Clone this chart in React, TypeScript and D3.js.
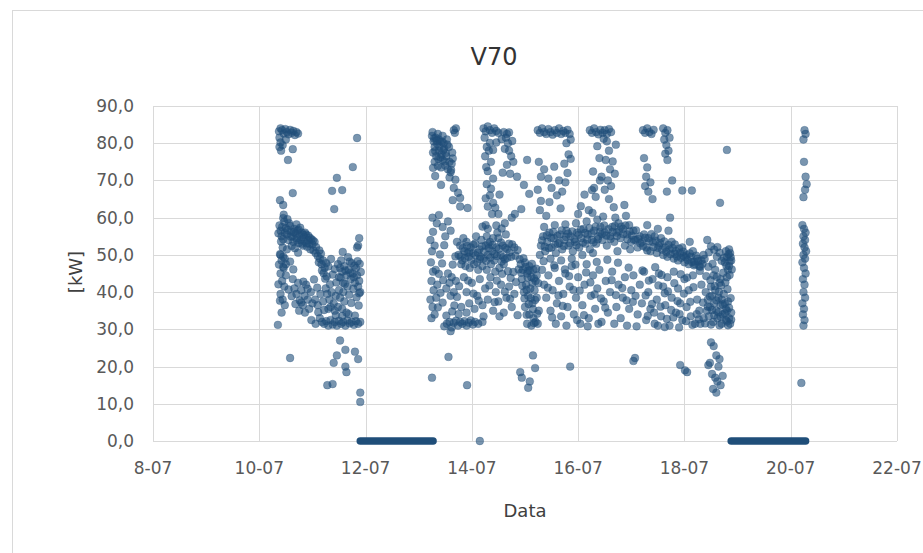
import React from "react";
import * as d3 from "d3";

type P = [number, number];

const xTicks = [8, 10, 12, 14, 16, 18, 20, 22];
const yTicks = [0, 10, 20, 30, 40, 50, 60, 70, 80, 90];
const zeroRuns: [number, number][] = [[11.9, 13.27], [18.88, 20.28]];

const july10: P[] = [
  [10.37,83.2],[10.40,84],[10.43,83.5],[10.46,82.6],[10.49,83.8],[10.52,83],[10.55,82.4],[10.58,83.6],[10.61,82.8],[10.64,83.3],[10.67,82.2],[10.70,83],[10.73,82.6],[10.38,81.5],[10.40,80.2],[10.38,79],[10.41,78],[10.44,79.5],[10.50,81],[10.63,78.4],[10.54,75.5],
  [11.84,81.4],[11.76,73.6],[11.46,70.7],[11.37,67.2],[11.56,67.4],[10.63,66.6],[11.41,62.3],[10.39,64.7],[10.45,63.4],[10.45,59.9],[10.43,57.5],
  [10.40,56.5],[10.42,55],[10.45,54.2],[10.48,56],[10.50,57.2],[10.52,55.5],[10.55,54],[10.58,57.8],[10.60,56.3],[10.62,55],[10.64,53.5],[10.66,57],[10.68,55.8],[10.70,54.5],[10.72,56.5],[10.74,53.2],[10.76,55.2],[10.78,54],[10.80,56],[10.82,52.5],[10.84,54.8],[10.86,53.5],[10.88,55.5],[10.90,52.2],[10.92,54],[10.94,53],[10.96,51.5],[10.98,54.2],[11.00,52.8],[11.02,51.2],[11.04,53.5],[11.06,50.5],[10.56,58.5],[10.70,58.2],[10.44,52],[10.52,51.5],[10.74,56.8],[10.86,56],[10.92,55.2],[10.80,53],
  [10.40,50],[10.42,48.5],[10.45,46.8],[10.40,45],[10.43,43],[10.47,41.5],[10.40,39.5],[10.44,38],[10.48,36.5],[10.42,34.5],[10.35,31.2],[10.50,44.5],[10.45,49.5],[10.48,49],[10.50,47.5],[10.46,46.5],
  [10.63,43.5],[10.66,41],[10.70,39.5],[10.73,42.5],[10.76,37.8],[10.79,40.5],[10.82,36.5],[10.85,39],[10.88,42],[10.91,38],[10.94,35.5],[10.97,40],[11.00,37],[10.68,36.8],[10.75,35],[10.86,34.5],
  [11.14,49],[11.17,47.5],[11.20,48.5],[11.23,46.5],[11.26,47.8],[11.18,45.8],[11.12,48],
  [11.48,47.5],[11.52,46.5],[11.56,45.5],[11.60,47],[11.64,44.5],[11.68,46],[11.72,43.5],[11.76,45],[11.80,42.5],[11.84,44.5],[11.88,43],[11.50,44],[11.58,42.5],[11.66,41.5],[11.74,47.8],[11.82,46.5],[11.86,41.5],[11.54,48.5],[11.70,48.2],[11.62,45.8],[11.78,44],
  [11.28,39.5],[11.32,38],[11.36,40],[11.40,37],[11.44,39],[11.48,36],[11.52,38.5],[11.56,35.5],[11.60,37.5],[11.64,34.5],[11.34,36],[11.42,35],[11.50,40.5],[11.58,40],[11.30,35.5],[11.05,38],[11.10,36.5],[11.15,39.5],[11.20,37.5],[11.25,41],
  [11.18,32],[11.22,31.5],[11.26,32.2],[11.30,31],[11.34,32.5],[11.38,31.3],[11.42,32],[11.46,31],[11.50,32.3],[11.54,31.5],[11.58,32],[11.62,31],[11.66,32.4],[11.70,31.6],[11.74,32],[11.78,31.2],[11.82,32.2],[11.86,31.5],[11.90,32],[11.14,33],[10.98,32.5],[11.06,31.5],
  [11.88,54.5],[11.86,52.5],[11.84,52],[11.90,40],[11.88,39.7],
  [10.58,22.3],[11.52,27],[11.46,23],[11.40,21],[11.62,24.5],[11.80,24],[11.86,22],[11.62,20],[11.64,18.5],[11.28,15],[11.38,15.3],[11.90,13],[11.90,10.5],
];

const july10b: P[] = [
  [10.36,55.8],[10.41,53.6],[10.47,58.9],[10.53,56.7],[10.59,54.9],[10.65,56.1],[10.71,53.9],[10.77,57.3],[10.83,55.4],[10.89,53.1],[10.95,54.6],[11.01,53.9],[11.07,52.1],[11.10,49.7],[11.13,51.2],[10.61,52.4],[10.67,51.8],[10.73,50.6],[10.58,48.2],[10.64,46.1],[10.55,40.7],[10.61,38.9],[10.79,37.2],[10.83,42.8],[10.91,40.9],[11.03,43.4],[11.09,41.2],[11.11,34.6],[11.22,35.2],[11.24,43.6],[11.33,42.1],[11.38,44.7],[11.45,42.6],[11.53,43.9],[11.61,42.2],[11.69,39.3],[11.73,37.1],[11.77,40.9],[11.83,38.6],[11.87,36.4],[11.44,33.8],[11.56,33.6],[11.68,34.1],[11.80,33.7],[11.71,45.2],[11.79,47.1],[11.85,48.3],[11.67,49.4],[11.57,50.8],[11.89,47.6],[11.91,45.4],[11.21,45.1],[11.27,44.2],[11.16,50.3],[11.30,46.9],[11.35,48.9],[11.42,46.2],[10.38,57.9],[10.46,60.8],[10.53,59.6],[10.39,50.2],[10.37,47.4],[10.36,42.1],[10.39,37.7],
];

const july13: P[] = [
  [13.25,82],[13.28,80.5],[13.30,79],[13.27,77.5],[13.32,81.5],[13.35,79.8],[13.38,78],[13.33,76.5],[13.40,80.5],[13.43,77],[13.45,75.5],[13.48,78.5],[13.50,74],[13.52,76.5],[13.55,73],[13.58,75],[13.60,72.2],[13.62,74.5],[13.30,75],[13.42,73.5],[13.26,83],[13.36,82.5],[13.47,80],[13.53,81],[13.57,79],[13.63,77.5],[13.66,83.5],[13.70,84],[13.68,82.8],[13.38,81],[13.45,82],
  [13.42,68.8],[13.66,68],[13.64,64.7],[13.78,65.3],[13.78,63],[13.26,60],[13.38,60.7],[13.55,59],[13.92,62.6],[13.45,57.5],[13.60,56.5],[13.50,55],
  [13.22,54],[13.25,51],[13.23,48],[13.27,45.5],[13.24,43],[13.28,40.5],[13.22,38],[13.26,36],[13.30,34],[13.24,33],[13.32,46],[13.35,42],[13.30,52.5],[13.33,38.5],
  [13.55,45],[13.58,42.5],[13.62,44],[13.66,40],[13.70,43],[13.60,39],[13.52,41],
  [13.53,31.5],[13.58,32],[13.62,30.5],[13.66,31.8],[13.70,32.3],[13.74,31],[13.78,32],[13.82,31.5],[13.86,32.2],[13.90,31],[13.94,31.8],[13.98,32.4],[14.02,31.3],[14.06,32],[14.12,31.5],[14.20,32],[13.60,29.5],[13.48,30.8],
  [13.56,22.6],[13.25,17],[13.91,15],[14.15,0],
  [13.29,81.3],[13.31,77.9],[13.34,80.7],[13.37,75.8],[13.39,79.1],[13.41,76.2],[13.44,80.4],[13.46,78.1],[13.49,75.1],[13.51,77.4],[13.54,79.6],[13.27,73.4],[13.31,71.2],[13.36,73.9],[13.58,70.8],[13.61,72.8],[13.64,75.9],[13.69,70.2],[13.74,66.7],[13.27,56.2],[13.34,58.5],[13.48,52.6],[13.40,50.1],[13.44,47.7],[13.38,44.9],[13.46,43.2],[13.41,39.8],[13.36,35.9],[13.45,37.2],[13.67,36.4],[13.72,38.7],[13.76,41.6],[13.64,47.4],[13.69,49.6],[13.72,53.5],[13.52,33.7],[13.75,34.1],[13.63,34.8],
];

const july14: P[] = [
  [13.75,50],[13.78,52.5],[13.82,48.5],[13.86,51],[13.90,53.5],[13.94,49.5],[13.98,52],[14.02,50.5],[14.06,53],[14.10,48],[14.14,51.5],[14.18,54],[14.22,49],[14.26,52.5],[14.30,50],[14.34,53.5],[14.38,51],[14.42,48.5],[14.46,52],[14.50,54.5],[14.54,50],[14.58,52.5],[14.62,48.8],[14.66,51.5],[14.70,53],[14.74,49.5],[14.80,52],[13.80,47.5],[13.88,47],[13.96,46.5],[14.04,47.5],[14.12,46],[14.20,47],[14.28,46],[14.36,47.5],[14.44,45.5],[14.52,46.5],[14.60,47.5],[13.84,54.5],[14.08,55],[14.28,55],[14.48,56],[14.64,55.5],[14.40,54.5],[13.92,50.5],[14.16,49.5],[14.32,51.8],[14.56,48.2],
  [13.85,44],[13.90,40],[13.95,37],[14.00,42.5],[14.05,35.5],[14.10,39],[14.15,43.5],[14.20,36.5],[14.25,41],[14.30,38],[14.35,44],[14.40,35],[14.45,40],[14.50,37.5],[14.55,42],[14.60,34.5],[14.65,38.5],[14.70,41.5],[14.75,36],[14.80,39.5],[13.80,36],[14.22,33.5],[14.52,33.5],[13.90,34.5],
  [14.22,84],[14.26,83.2],[14.30,84.5],[14.34,83.5],[14.38,82.8],[14.42,84],[14.46,83.3],[14.50,82.8],[14.24,81.5],[14.28,79],[14.25,76.5],[14.32,78],[14.30,72.5],[14.36,75],[14.28,69],[14.34,66],[14.30,63],[14.38,61],[14.26,58],[14.40,70.5],
  [14.60,83],[14.64,81.5],[14.68,80],[14.62,78.5],[14.70,78],[14.74,76.5],[14.66,82.5],[14.78,75],[14.85,71],[15.04,75.5],[14.81,61],
  [14.40,64],[14.50,61],[14.62,58.5],[14.75,60],[14.30,57],
  [14.92,47.5],[14.96,46],[15.00,48],[15.04,45],[15.08,47],[15.12,44],[15.16,46],[15.20,43],[14.94,43.5],[15.02,42],[15.10,41],[15.18,40.5],[15.22,38.5],[15.06,39],[15.14,37],[15.00,36],[15.08,34],[15.16,33],[15.20,32],[15.04,31.5],[15.12,31],[15.24,31.5],[15.26,35],[15.22,44.5],[14.98,40],[15.06,45.8],[15.14,42.5],
  [14.91,18.5],[14.94,17],[15.09,16],[15.06,14.3],[15.15,23],[15.19,19.6],[15.85,20],
];

const july14b: P[] = [
  [13.79,49.6],[13.83,51.8],[13.87,49.1],[13.91,52.4],[13.95,50.8],[13.99,48.6],[14.03,52.7],[14.07,49.9],[14.11,50.6],[14.15,48.9],[14.19,52.3],[14.23,50.9],[14.27,48.4],[14.31,52.9],[14.35,49.3],[14.39,52.6],[14.43,50.2],[14.47,49.7],[14.51,51.6],[14.55,53.3],[14.59,49.4],[14.63,51.9],[14.67,49.2],[14.71,50.7],[14.76,52.8],[14.82,49.8],[14.86,51.3],[14.90,48.8],[14.88,46.1],[14.93,45.2],[14.97,49.1],[15.01,46.8],[15.05,43.9],[15.09,45.8],[15.13,47.6],[15.17,43.7],[15.21,46.3],[15.25,42.4],[14.95,41.7],[14.99,38.3],[15.03,40.6],[15.07,36.8],[15.11,38.4],[15.15,35.4],[15.19,37.9],[15.23,34.2],[15.03,33.9],[15.17,31.7],[14.86,33.8],[14.83,42.7],[14.78,45.4],[14.73,43.8],[14.68,45.6],[14.57,44.9],[14.47,43.1],[14.33,41.8],[14.13,37.7],[14.03,39.6],[13.93,43.1],[14.43,37.3],[14.62,40.1],[14.72,38.2],[14.46,57.9],[14.56,57.1],[14.20,57.6],[14.26,65.2],[14.36,67.8],[14.44,62.7],[14.52,66.2],[14.58,72.1],[14.66,74.2],[14.72,71.8],[14.76,80.6],[14.70,82.9],[14.56,81.1],[14.46,80.2],[14.40,78.2],[14.34,80.1],[14.27,73.6],[14.93,62.3],[14.98,68.8],[15.08,66.4],
];

const july15: P[] = [
  [15.24,83.5],[15.28,82.8],[15.32,84],[15.36,83],[15.40,82.5],[15.44,83.8],[15.48,83],[15.52,82.3],[15.56,83.5],[15.60,82.8],[15.64,84],[15.68,82.5],[15.72,83.3],[15.76,82.8],[15.80,83.6],[15.84,82.5],[15.86,81],
  [15.26,75],[15.30,71],[15.24,67.5],[15.30,64.5],[15.28,62],
  [15.78,80],[15.82,77],[15.74,74.5],[15.80,72],[15.76,69.5],[15.70,67],[15.64,70],[15.60,66],[15.36,73],[15.44,70.5],[15.50,68],
  [15.30,52.5],[15.34,55],[15.38,51],[15.42,53.5],[15.46,56],[15.50,52],[15.54,54.5],[15.58,50.5],[15.62,53],[15.66,55.5],[15.70,51.5],[15.74,54],[15.78,56.5],[15.82,52.5],[15.86,55],[15.90,51],[15.94,53.5],[15.98,56],[16.02,52],[16.06,54.5],[16.10,57],[16.14,53],[16.18,55.5],[16.22,51.5],[16.26,54],[16.30,56.5],[16.34,53],[16.38,55],[16.42,57.5],[16.46,54],[16.50,56],[16.54,52.5],[15.36,57.5],[15.56,58],[15.76,58.2],[15.96,58.5],[16.16,59],[16.36,59.5],[15.28,50],[15.48,49],[15.68,48.5],[15.88,49],[16.08,50],[16.28,50.5],[15.40,60.5],[16.00,61],[16.20,62],
  [15.32,46],[15.36,42],[15.40,38.5],[15.44,44.5],[15.48,35],[15.52,40.5],[15.56,46.5],[15.60,37],[15.64,43],[15.68,33.5],[15.72,39.5],[15.76,45],[15.80,36],[15.84,41.5],[15.88,47],[15.92,34],[15.96,38.5],[16.00,44],[16.04,31.5],[16.08,36.5],[16.12,42],[16.16,47.5],[16.20,33],[16.24,39],[16.28,44.5],[16.32,35.5],[16.36,41],[16.40,46],[16.44,32],[16.48,37.5],[16.52,43],[16.56,34.5],[16.60,40],[16.64,45.5],[16.68,31.5],[16.72,36],[16.76,42],[16.80,33],[16.84,38.5],[16.88,44],[16.92,31],[16.96,35.5],[17.00,40.5],[15.58,31.5],[15.78,31],[15.98,32.5],[16.18,30.8],[16.38,31.5],
];

const july16: P[] = [
  [16.22,83.5],[16.26,82.8],[16.30,84],[16.34,83],[16.38,82.4],[16.42,83.6],[16.46,82.8],[16.50,83.5],[16.54,82.5],[16.58,83.8],[16.62,83],
  [16.54,80.5],[16.58,78],[16.52,75.5],[16.60,73],[16.56,70],[16.50,67.5],[16.58,65],[16.62,68.5],[16.40,76],[16.44,71],[16.30,68],[16.41,70],[16.26,67.4],
  [16.60,55],[16.64,57.5],[16.68,53.5],[16.72,56],[16.76,58.5],[16.80,54.5],[16.84,57],[16.88,52.5],[16.92,55.5],[16.96,58],[17.00,53.5],[17.04,56.5],[17.08,54],[17.12,52],[17.16,55],[16.70,60],[16.90,60.5],[16.74,51],[16.98,51.5],
  [17.07,22.3],[17.04,21.5],
];

const july16b: P[] = [
  [15.32,53.9],[15.37,52.2],[15.41,55.3],[15.45,51.8],[15.49,54.6],[15.53,56.2],[15.57,52.7],[15.61,55.1],[15.65,53.2],[15.69,56.6],[15.73,52.4],[15.77,54.8],[15.81,55.7],[15.85,53.1],[15.89,56.3],[15.93,54.2],[15.97,52.6],[16.01,55.4],[16.05,56.8],[16.09,53.3],[16.13,55.9],[16.17,54.1],[16.21,57.2],[16.25,55.8],[16.29,53.4],[16.33,57.6],[16.37,54.2],[16.41,56.1],[16.45,55.6],[16.49,57.9],[16.53,55.2],[16.57,56.9],[16.61,54.3],[16.65,56.2],[16.69,57.8],[16.73,55.1],[16.77,56.4],[16.81,57.6],[16.85,55.6],[16.89,57.9],[16.93,54.2],[16.97,56.3],[17.01,55.2],[17.05,54.1],[17.09,56.6],[17.13,54.3],[17.17,53.1],[15.35,48.3],[15.55,47.2],[15.75,46.1],[15.95,47.4],[16.15,45.3],[16.35,48.1],[16.55,48.7],[16.75,47.9],[16.95,46.6],[15.43,41.2],[15.63,39.1],[15.83,44.3],[16.03,40.4],[16.23,42.6],[16.43,38.3],[16.63,43.2],[16.83,41.1],[17.03,37.4],[15.51,33.2],[15.71,36.3],[15.91,40.6],[16.11,33.8],[16.31,39.4],[16.51,35.8],[16.71,39.2],[16.91,37.8],[16.27,61.3],[16.47,60.3],[16.67,62.8],[16.87,63.4],[16.33,65.6],[16.05,63.1],[16.12,66.2],[15.67,62.5],[15.46,64.2],[15.55,73.7],[15.86,75.8],[16.65,75.1],[16.69,71.8],[16.71,79.6],[16.28,72.4],[16.48,81.2],[16.36,79.2],
];

const july17: P[] = [
  [17.22,83.5],[17.26,82.8],[17.30,84],[17.34,83],[17.38,82.5],[17.42,83.6],[17.60,84],[17.64,82.8],[17.68,83.5],[17.62,81],[17.66,79.5],[17.70,78],[17.64,77.2],[17.72,81.5],[17.68,75.5],
  [17.24,76],[17.30,73.5],[17.28,71],[17.36,69.5],[17.32,67],[17.40,65],[17.26,68.5],
  [17.77,70],[17.96,67.3],[18.14,67.3],[17.67,67],[17.73,60],[18.80,78.2],[18.67,64],
  [17.20,53.5],[17.24,55.5],[17.28,52],[17.32,54.5],[17.36,51],[17.40,53.5],[17.44,55],[17.48,50.5],[17.52,52.5],[17.56,54.5],[17.60,50],[17.64,52],[17.68,49.5],[17.72,51.5],[17.76,53.5],[17.80,49],[17.84,51],[17.88,48.5],[17.92,50.5],[17.96,52],[18.00,48],[18.04,50],[18.08,47.5],[18.12,49.5],[18.16,51],[18.20,47.5],[18.24,49],[18.28,47],[18.32,48.5],[17.50,57],[17.70,56.5],[17.30,58],[18.10,53.5],[18.36,50],[17.82,52.8],[17.98,49.8],[18.18,48.2],
  [17.04,44.5],[17.08,39],[17.12,34],[17.16,42],[17.20,37],[17.24,45.5],[17.28,32.5],[17.32,40],[17.36,35.5],[17.40,43.5],[17.44,31.5],[17.48,38],[17.52,45],[17.56,33.5],[17.60,41.5],[17.64,36.5],[17.68,44],[17.72,31],[17.76,38.5],[17.80,45.5],[17.84,34.5],[17.88,41],[17.92,37],[17.96,32.5],[18.00,43.5],[18.04,36],[18.08,40.5],[18.12,33.5],[18.16,44.5],[18.20,31.5],[18.24,38],[18.28,35],[18.32,42],[17.10,30.8],[17.50,31],[17.90,30.5],[18.30,31.5],[18.36,33],[17.63,30.6],
  [17.92,20.4],[18.01,19],[18.05,18.5],
];

const july17b: P[] = [
  [17.22,52.4],[17.26,54.6],[17.30,51.2],[17.34,53.7],[17.38,55.6],[17.42,52.1],[17.46,53.8],[17.50,51.9],[17.54,53.2],[17.58,51.4],[17.62,53.6],[17.66,50.8],[17.70,52.7],[17.74,50.2],[17.78,51.8],[17.82,50.3],[17.86,49.6],[17.90,51.7],[17.94,49.2],[17.98,50.9],[18.02,49.4],[18.06,48.6],[18.10,50.4],[18.14,48.1],[18.18,47.2],[18.22,49.8],[18.26,48.3],[18.30,46.8],[18.34,47.6],[18.38,48.9],[17.21,45.8],[17.33,43.1],[17.45,46.7],[17.57,44.6],[17.69,40.2],[17.81,42.4],[17.93,44.8],[18.05,43.9],[18.17,41.3],[18.29,45.7],[17.27,39.1],[17.39,36.8],[17.51,41.8],[17.63,39.7],[17.75,35.2],[17.87,37.6],[17.99,39.6],[18.11,37.4],[18.23,34.1],[18.35,37.2],[17.31,33.6],[17.43,34.5],[17.55,36.1],[17.67,32.8],[17.79,33.2],[17.91,34.1],[18.03,32.2],[18.15,31.2],[18.27,32.7],[18.39,31.6],
];

const july18: P[] = [
  [18.40,40],[18.44,38],[18.48,36],[18.52,39],[18.56,37],[18.60,35],[18.64,38.5],[18.68,36.5],[18.72,34],[18.76,37],[18.80,35],[18.84,33],[18.88,34.5],[18.46,33.5],[18.54,32],[18.62,33],[18.70,31.5],[18.78,32.5],[18.86,31.5],[18.42,35],[18.58,40.5],[18.74,39.5],[18.50,41.5],[18.66,42.5],[18.82,37.5],[18.70,38],[18.78,35.5],
  [18.76,48],[18.80,49.5],[18.84,47],[18.86,50.5],[18.82,46],[18.78,51],[18.88,48.5],[18.84,51.5],
  [18.43,54],[18.61,49.5],[18.58,46],[18.80,44],[18.55,44.5],[18.68,43.5],
  [18.50,26.5],[18.55,25.5],[18.60,23],[18.66,22],[18.64,20],[18.48,21],[18.52,18],[18.58,17],[18.62,16],[18.68,15],[18.54,14],[18.60,13],[18.72,17.5],[18.45,20.4],
  [18.41,44.3],[18.45,46.8],[18.49,43.2],[18.53,47.6],[18.57,41.6],[18.61,44.1],[18.65,40.1],[18.69,41.8],[18.73,45.2],[18.77,42.6],[18.81,40.8],[18.85,44.6],[18.87,38.4],[18.44,36.1],[18.48,38.8],[18.52,35.2],[18.56,33.8],[18.60,37.8],[18.64,34.6],[18.68,33.4],[18.72,36.7],[18.76,34.3],[18.80,32.1],[18.84,35.8],[18.88,32.6],[18.50,31.3],[18.66,31.1],[18.82,31.1],[18.89,46.1],[18.87,49.4],[18.85,48.2],[18.83,50.2],[18.79,47.1],[18.74,49.2],[18.70,48.4],[18.66,50.6],[18.62,52.1],[18.56,51.4],[18.50,52.3],[18.46,50.7],
];

const july20: P[] = [
  [20.26,83.5],[20.28,82.5],[20.24,81],[20.25,75],[20.28,71],[20.30,69],[20.27,67.5],[20.24,65.5],
  [20.22,58],[20.25,57],[20.28,56],[20.24,55],[20.27,54],[20.23,53],[20.26,52],[20.29,51],[20.24,50],[20.27,49],[20.22,48],[20.25,46.5],[20.28,45],[20.23,43.5],[20.26,42],[20.24,40],[20.27,38.5],[20.22,37],[20.25,35.5],[20.23,34],[20.26,32.5],[20.24,31],[20.20,15.6],
];

const allPoints: P[] = [
  ...july10, ...july10b, ...july13, ...july14, ...july14b, ...july15,
  ...july16, ...july16b, ...july17, ...july17b, ...july18, ...july20,
];

const W = 923, H = 553;
const FONT = "'DejaVu Sans', sans-serif";

export default function App() {
  const x = d3.scaleLinear().domain([8, 22]).range([153, 897]);
  const y = d3.scaleLinear().domain([0, 90]).range([441, 106]);
  const color = "#1f4e79";
  return (
    <svg width={W} height={H} style={{ position: "absolute", left: 0, top: 0, background: "#fff" }}>
      <rect x={0} y={0} width={W} height={H} fill="#fff" />
      <rect x={12.5} y={10.5} width={W + 20} height={H + 20} fill="#fff" stroke="#d9d9d9" />
      {yTicks.map((t) => (
        <line key={"gy" + t} x1={x(8)} x2={x(22)} y1={Math.round(y(t)) + 0.5} y2={Math.round(y(t)) + 0.5} stroke="#d9d9d9" />
      ))}
      {xTicks.map((t) => (
        <line key={"gx" + t} x1={Math.round(x(t)) + 0.5} x2={Math.round(x(t)) + 0.5} y1={y(90)} y2={y(0)} stroke="#d9d9d9" />
      ))}
      {yTicks.map((t) => (
        <text key={"ty" + t} x={134} y={y(t)} dy="0.35em" textAnchor="end" fontFamily={FONT} fontSize={17} fill="#595959">
          {t.toFixed(1).replace(".", ",")}
        </text>
      ))}
      {xTicks.map((t) => (
        <text key={"tx" + t} x={x(t)} y={468} dy="0.35em" textAnchor="middle" fontFamily={FONT} fontSize={17} fill="#595959">
          {`${t}-07`}
        </text>
      ))}
      {zeroRuns.map(([a, b], i) => (
        <line key={"z" + i} x1={x(a)} x2={x(b)} y1={y(0)} y2={y(0)} stroke={color} strokeWidth={7.5} strokeLinecap="round" />
      ))}
      <g>
        {allPoints.map(([d, v], i) => (
          <circle key={i} cx={x(d)} cy={y(v)} r={3.9} fill={color} fillOpacity={0.6} stroke={color} strokeOpacity={0.35} strokeWidth={0.8} />
        ))}
      </g>
      <text x={494} y={57} dy="0.35em" textAnchor="middle" fontFamily={FONT} fontSize={24} fill="#333">V70</text>
      <text x={525} y={511} dy="0.35em" textAnchor="middle" fontFamily={FONT} fontSize={18} fill="#404040">Data</text>
      <text transform={`translate(76,272) rotate(-90)`} dy="0.35em" textAnchor="middle" fontFamily={FONT} fontSize={18} fill="#404040">[kW]</text>
    </svg>
  );
}
